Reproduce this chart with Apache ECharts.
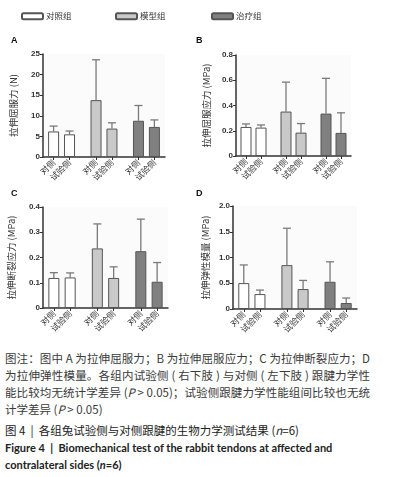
<!DOCTYPE html>
<html>
<head>
<meta charset="utf-8">
<script src="https://cdn.jsdelivr.net/npm/echarts@6/dist/echarts.min.js"></script>
<style>
  html, body { margin: 0; padding: 0; background: #fff; }
  #chart { position: absolute; left: 0; top: 0; width: 395px; height: 345px; }
  .note { position: absolute; left: 5px; width: 365px; font-family: "Noto Sans CJK SC", sans-serif;
          font-size: 11.5px; line-height: 17px; color: #3a3a3a; white-space: nowrap; }
  .note .j { text-align: justify; text-align-last: justify; }
  .title { position: absolute; left: 5px; font-family: "Noto Sans CJK SC", sans-serif; font-size: 11.5px;
           line-height: 17px; color: #222; white-space: nowrap; }
  .en { position: absolute; left: 5px; width: 385px; font-family: Lato, sans-serif; font-weight: 700;
        font-size: 11px; line-height: 17px; color: #222; white-space: nowrap; }
</style>
</head>
<body>
<div id="chart"></div>
<div class="note" style="top:350px">
  <div class="j">图注：图中 A 为拉伸屈服力；B 为拉伸屈服应力；C 为拉伸断裂应力；D</div>
  <div class="j">为拉伸弹性模量。各组内试验侧 ( 右下肢 ) 与对侧 ( 左下肢 ) 跟腱力学性</div>
  <div class="j">能比较均无统计学差异 (<i>P</i> &gt; 0.05)；试验侧跟腱力学性能组间比较也无统</div>
  <div>计学差异 (<i>P</i> &gt; 0.05)</div>
</div>
<div class="title" style="top:422px">图 4 &nbsp;|&nbsp; 各组兔试验侧与对侧跟腱的生物力学测试结果 (<i>n</i>=6)</div>
<div class="en" style="top:439px">Figure 4 &nbsp;|&nbsp; Biomechanical test of the rabbit tendons at affected and<br>contralateral sides (<i>n</i>=6)</div>
<script>
// groups and bar labels (two bars per group)
const groups = ["对照组", "模型组", "治疗组"];
const sides = ["对侧", "试验侧", "对侧", "试验侧", "对侧", "试验侧"];
const groupColors = ["#ffffff", "#c9c9c9", "#808080"];

// A: yield force (N)
const yieldForceMean = [6.2, 5.5, 13.8, 6.9, 8.8, 7.3];
const yieldForceSD = [1.3, 0.8, 9.8, 1.4, 3.7, 1.7];
// B: yield stress (MPa)
const yieldStressMean = [0.23, 0.225, 0.352, 0.185, 0.336, 0.183];
const yieldStressSD = [0.024, 0.021, 0.233, 0.072, 0.279, 0.159];
// C: breaking stress (MPa)
const breakStressMean = [0.119, 0.121, 0.236, 0.119, 0.225, 0.104];
const breakStressSD = [0.021, 0.018, 0.097, 0.044, 0.127, 0.076];
// D: elastic modulus (MPa)
const modulusMean = [0.503, 0.29, 0.852, 0.387, 0.529, 0.116];
const modulusSD = [0.352, 0.078, 0.716, 0.168, 0.387, 0.097];

// the bars sit on a finer category grid so the groups get wider gaps
const SLOT_COUNT = 24;
const barSlots = [2, 5, 10, 13, 18, 21];
const slotLabels = Array.from({ length: SLOT_COUNT }, (_, i) => {
  const k = barSlots.indexOf(i);
  return k >= 0 ? sides[k] : "";
});

const panels = [
  { letter: "A", name: "拉伸屈服力 (N)", mean: yieldForceMean, sd: yieldForceSD, max: 25, interval: 5,
    grid: { left: 43, top: 54, width: 122, height: 103 }, letterPos: [11, 36], nameGap: 25, fmt: (v) => String(v) },
  { letter: "B", name: "拉伸屈服应力 (MPa)", mean: yieldStressMean, sd: yieldStressSD, max: 0.8, interval: 0.2,
    grid: { left: 236, top: 55, width: 115, height: 101 }, letterPos: [196, 36], nameGap: 25, fmt: (v) => (v === 0 ? "0" : v.toFixed(1)) },
  { letter: "C", name: "拉伸断裂应力 (MPa)", mean: breakStressMean, sd: breakStressSD, max: 0.4, interval: 0.1,
    grid: { left: 43, top: 207, width: 125, height: 101 }, letterPos: [11, 189], nameGap: 27, fmt: (v) => (v === 0 ? "0" : v.toFixed(1)) },
  { letter: "D", name: "拉伸弹性模量 (MPa)", mean: modulusMean, sd: modulusSD, max: 2.0, interval: 0.5,
    grid: { left: 233, top: 206, width: 124, height: 103 }, letterPos: [196, 189], nameGap: 23, fmt: (v) => (v === 0 ? "0" : v.toFixed(1)) },
];

const axisColor = "#333";
const fontFamily = "Liberation Sans, Noto Sans CJK SC, sans-serif";
const isBarSlot = (index) => barSlots.indexOf(index) >= 0;

const grid = [], xAxis = [], yAxis = [], series = [], graphic = [];

panels.forEach((p, pi) => {
  grid.push(Object.assign({ show: true, backgroundColor: "#fbfbfb", borderWidth: 0 }, p.grid));
  xAxis.push({
    type: "category", gridIndex: pi, data: slotLabels, boundaryGap: false,
    axisLine: { lineStyle: { color: axisColor, width: 1.5 } },
    axisTick: { interval: isBarSlot, length: 3, lineStyle: { color: axisColor, width: 1 } },
    axisLabel: { interval: isBarSlot, rotate: 45, fontSize: 8.5, color: "#333", margin: 4, fontFamily: "Noto Sans CJK SC" },
    splitLine: { show: false },
  });
  yAxis.push({
    type: "value", gridIndex: pi, min: 0, max: p.max, interval: p.interval,
    axisLine: { show: true, lineStyle: { color: axisColor, width: 1.5 } },
    axisTick: { show: true, length: 3, lineStyle: { color: axisColor } },
    axisLabel: { fontSize: 8, fontWeight: "bold", color: "#333", margin: 3, fontFamily, formatter: p.fmt },
    splitLine: { show: false },
    name: p.name, nameLocation: "middle", nameRotate: 90, nameGap: p.nameGap,
    nameTextStyle: { fontSize: 9.5, color: "#333", fontFamily: "Noto Sans CJK SC" },
  });

  groups.forEach((g, gi) => {
    const data = new Array(SLOT_COUNT).fill("-");
    [0, 1].forEach((j) => {
      const k = gi * 2 + j;
      data[barSlots[k]] = p.mean[k];
    });
    series.push({
      type: "bar", name: g, xAxisIndex: pi, yAxisIndex: pi, data,
      barWidth: 11, barGap: "-100%", z: 3,
      itemStyle: { color: groupColors[gi], borderColor: "#555", borderWidth: 1 },
    });
  });

  // upper error bars (mean + SD)
  series.push({
    type: "custom", xAxisIndex: pi, yAxisIndex: pi, z: 2,
    data: p.mean.map((m, k) => [barSlots[k], m, m + p.sd[k]]),
    renderItem: (params, api) => {
      const base = api.coord([api.value(0), api.value(1)]);
      const top = api.coord([api.value(0), api.value(2)]);
      const style = { stroke: "#7a7a7a", lineWidth: 1.3 };
      return {
        type: "group",
        children: [
          { type: "line", shape: { x1: base[0], y1: base[1], x2: top[0], y2: top[1] }, style },
          { type: "line", shape: { x1: top[0] - 4, y1: top[1], x2: top[0] + 4, y2: top[1] }, style },
        ],
      };
    },
  });

  graphic.push({
    type: "text", left: p.letterPos[0], top: p.letterPos[1],
    style: { text: p.letter, fontSize: 9, fontWeight: "bold", fill: "#111", fontFamily },
  });
});

const legend = groups.map((g, gi) => ({
  data: [g], left: [16, 110, 206][gi], top: 7,
  itemWidth: 21, itemHeight: 6, itemGap: 4, selectedMode: false,
  textStyle: { fontSize: 8.5, color: "#333", fontFamily: "Noto Sans CJK SC", padding: [0, 0, 0, -2] },
}));

const chart = echarts.init(document.getElementById("chart"), null, { renderer: "canvas" });
chart.setOption({
  animation: false,
  legend, grid, xAxis, yAxis, series, graphic,
});
</script>
</body>
</html>
